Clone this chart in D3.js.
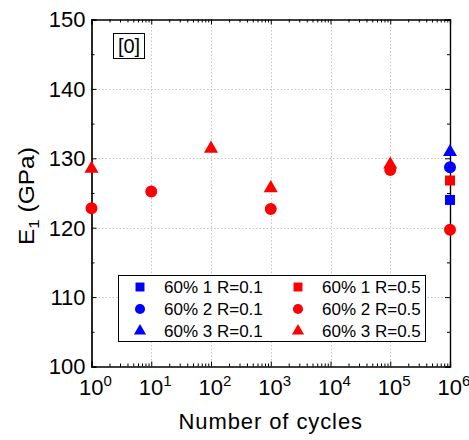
<!DOCTYPE html>
<html>
<head>
<meta charset="utf-8">
<script src="https://cdn.jsdelivr.net/npm/d3@7"></script>
<style>
  html, body { margin: 0; padding: 0; background: #fff; }
  svg { display: block; font-family: "Liberation Sans", Arial, sans-serif; }
</style>
</head>
<body>
<svg id="chart" width="469" height="440"></svg>
<script>
// ---- Data ----
const seriesLabels = ["60% 1 R=0.1", "60% 2 R=0.1", "60% 3 R=0.1", "60% 1 R=0.5", "60% 2 R=0.5", "60% 3 R=0.5"];
const seriesColors = ["#0000ff", "#0000ff", "#0000ff", "#ff0000", "#ff0000", "#ff0000"];
const seriesShapes = ["square", "circle", "triangle", "square", "circle", "triangle"];

const s1R01Cycles = [1e6];
const s1R01Values = [124.0];
const s2R01Cycles = [1e6];
const s2R01Values = [128.7];
const s3R01Cycles = [1e6];
const s3R01Values = [130.9];
const s1R05Cycles = [1e6];
const s1R05Values = [126.8];
const s2R05Cycles = [1, 10, 1000, 1e5, 1e6];
const s2R05Values = [122.8, 125.2, 122.7, 128.3, 119.7];
const s3R05Cycles = [1, 100, 1000, 1e5];
const s3R05Values = [128.5, 131.4, 125.7, 129.1];

const xTickExponents = [0, 1, 2, 3, 4, 5, 6];
const yTicks = [100, 110, 120, 130, 140, 150];
const yMinorTicks = [105, 115, 125, 135, 145];

const xTitle = "Number of cycles";
const panelLabel = "[0]";

const seriesCycles = [s1R01Cycles, s2R01Cycles, s3R01Cycles, s1R05Cycles, s2R05Cycles, s3R05Cycles];
const seriesValues = [s1R01Values, s2R01Values, s3R01Values, s1R05Values, s2R05Values, s3R05Values];

// ---- Layout ----
const svg = d3.select("#chart");
const L = 91.5, R = 450, T = 19.5, B = 366.5;

const x = d3.scaleLog().domain([1, 1e6]).range([L, R]);
const y = d3.scaleLinear().domain([100, 150]).range([B, T]);

const shapeType = { square: d3.symbolSquare, circle: d3.symbolCircle, triangle: d3.symbolTriangle };
const shapeSize = { square: 100, circle: 113, triangle: 86 };
const legendSize = { square: 80, circle: 80, triangle: 64 };

// Grid
const grid = svg.append("g").attr("stroke", "#c4c4c4").attr("stroke-width", 1).attr("stroke-dasharray", "1.5,2");
xTickExponents.slice(1, -1).forEach(e => {
  grid.append("line").attr("x1", Math.round(x(Math.pow(10, e))) + 0.5).attr("x2", Math.round(x(Math.pow(10, e))) + 0.5)
    .attr("y1", T).attr("y2", B);
});
yTicks.slice(1, -1).forEach(v => {
  grid.append("line").attr("y1", Math.round(y(v)) + 0.5).attr("y2", Math.round(y(v)) + 0.5)
    .attr("x1", L).attr("x2", R);
});

// Axes (ticks inside)
const minorX = [];
for (let e = 0; e < 6; e++) for (let k = 2; k <= 9; k++) minorX.push(k * Math.pow(10, e));
const majorX = xTickExponents.map(e => Math.pow(10, e));

const axB = svg.append("g").attr("transform", `translate(0,${B})`)
  .call(d3.axisBottom(x).tickValues(majorX).tickSize(-5).tickFormat(""));
const axBm = svg.append("g").attr("transform", `translate(0,${B})`)
  .call(d3.axisBottom(x).tickValues(minorX).tickSize(-3).tickFormat(""));
const axT = svg.append("g").attr("transform", `translate(0,${T})`)
  .call(d3.axisTop(x).tickValues(majorX).tickSize(-5).tickFormat(""));
const axTm = svg.append("g").attr("transform", `translate(0,${T})`)
  .call(d3.axisTop(x).tickValues(minorX).tickSize(-3).tickFormat(""));
const axL = svg.append("g").attr("transform", `translate(${L},0)`)
  .call(d3.axisLeft(y).tickValues(yTicks).tickSize(-5).tickFormat(""));
const axLm = svg.append("g").attr("transform", `translate(${L},0)`)
  .call(d3.axisLeft(y).tickValues(yMinorTicks).tickSize(-3).tickFormat(""));
const axR = svg.append("g").attr("transform", `translate(${R},0)`)
  .call(d3.axisRight(y).tickValues(yTicks).tickSize(-5).tickFormat(""));
const axRm = svg.append("g").attr("transform", `translate(${R},0)`)
  .call(d3.axisRight(y).tickValues(yMinorTicks).tickSize(-3).tickFormat(""));
[axB, axBm, axT, axTm, axL, axLm, axR, axRm].forEach(g => {
  g.selectAll("path.domain").attr("stroke", "#000").attr("stroke-width", 1.2);
  g.selectAll(".tick line").attr("stroke", "#000").attr("stroke-width", 1);
});

// Tick labels
const yl = svg.append("g").attr("font-size", 22).attr("fill", "#000").attr("text-anchor", "end");
yTicks.forEach(v => {
  yl.append("text").attr("x", L - 6).attr("y", y(v)).attr("dy", "0.36em").text(v);
});
const xl = svg.append("g").attr("font-size", 22).attr("fill", "#000");
xTickExponents.forEach(e => {
  const t = xl.append("text").attr("x", x(Math.pow(10, e)) + 4).attr("y", 395).attr("text-anchor", "middle");
  t.append("tspan").text("10");
  t.append("tspan").attr("dy", -9).attr("font-size", 15).text(e);
});

// Axis titles
svg.append("text").attr("x", (L + R) / 2).attr("y", 429).attr("text-anchor", "middle")
  .attr("font-size", 22).attr("letter-spacing", 0.9).text(xTitle);

// y title: built unrotated, then stretched to the reference length and rotated
const ytG = svg.append("g");
const yt = ytG.append("text").attr("x", 0).attr("y", 0).attr("font-size", 22);
yt.append("tspan").text("E");
yt.append("tspan").attr("font-size", 15).attr("dy", 5).text("1");
yt.append("tspan").attr("dy", -5).text(" (GPa)");
const yb = yt.node().getBBox();
const yTarget = 98;
const ys = yTarget / yb.width;
yt.attr("transform", `scale(${ys},1) translate(${-yb.x - yb.width / 2},0)`);
ytG.attr("transform", `translate(34,196) rotate(-90)`);

// Panel label
svg.append("rect").attr("x", 113.5).attr("y", 33.5).attr("width", 31).attr("height", 25)
  .attr("fill", "none").attr("stroke", "#000").attr("stroke-width", 1);
svg.append("text").attr("x", 129).attr("y", 46).attr("dy", "0.36em").attr("text-anchor", "middle")
  .attr("font-size", 20).text(panelLabel);

// Data points
seriesLabels.forEach((lab, i) => {
  const shp = seriesShapes[i];
  const sym = d3.symbol().type(shapeType[shp]).size(shapeSize[shp]);
  svg.append("g").selectAll("path")
    .data(seriesCycles[i].map((c, j) => ({ c, v: seriesValues[i][j] })))
    .join("path")
    .attr("d", sym)
    .attr("transform", d => `translate(${x(d.c)},${y(d.v)})`)
    .attr("fill", seriesColors[i]);
});

// Legend
const lg = svg.append("g");
lg.append("rect").attr("x", 118.5).attr("y", 275.5).attr("width", 307).attr("height", 66)
  .attr("fill", "#fff").attr("stroke", "#000").attr("stroke-width", 1);
seriesLabels.forEach((lab, i) => {
  const col = Math.floor(i / 3), row = i % 3;
  const sx = col === 0 ? 140 : 298;
  const sy = 287 + row * 22;
  const shp = seriesShapes[i];
  lg.append("path").attr("d", d3.symbol().type(shapeType[shp]).size(legendSize[shp]))
    .attr("transform", `translate(${sx},${sy})`).attr("fill", seriesColors[i]);
  lg.append("text").attr("x", sx + 24).attr("y", sy).attr("dy", "0.36em")
    .attr("font-size", 17).text(lab);
});
</script>
</body>
</html>
